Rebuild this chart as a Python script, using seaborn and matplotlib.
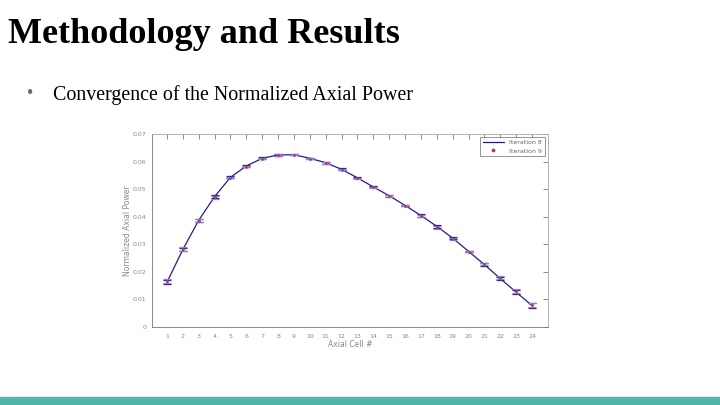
import numpy as np
import pandas as pd
import matplotlib
matplotlib.use('Agg')
import matplotlib.pyplot as plt
from matplotlib.lines import Line2D
import seaborn as sns

# Data
cells = list(range(1, 25))
power_it8 = [0.0162, 0.0281, 0.0387, 0.0473, 0.0543, 0.0584, 0.0612, 0.0624,
             0.0625, 0.0612, 0.0596, 0.0572, 0.0541, 0.0508, 0.0476, 0.0441,
             0.0404, 0.0365, 0.0322, 0.0274, 0.0226, 0.0175, 0.0126, 0.0077]
power_it9 = [0.0166, 0.0284, 0.0385, 0.0470, 0.0542, 0.0582, 0.0611, 0.0624,
             0.0625, 0.0611, 0.0594, 0.0571, 0.0540, 0.0507, 0.0475, 0.0440,
             0.0402, 0.0362, 0.0320, 0.0273, 0.0228, 0.0178, 0.0130, 0.0080]
err = [0.0008, 0.0007, 0.0006, 0.0005, 0.0003, 0.0003, 0.0003, 0.0002,
       0.0002, 0.0002, 0.0003, 0.0003, 0.0002, 0.0002, 0.0003, 0.0002,
       0.0004, 0.0005, 0.0004, 0.0003, 0.0005, 0.0005, 0.0007, 0.0008]
xticks = list(range(1, 25))
yticks = [0, 0.01, 0.02, 0.03, 0.04, 0.05, 0.06, 0.07]

df = pd.DataFrame({'cell': cells, 'it8': power_it8, 'it9': power_it9, 'err': err})

sns.set_style('white')
plt.rcParams['font.family'] = ['DejaVu Sans']

fig = plt.figure(figsize=(7.2, 4.05), dpi=100)

# slide text
fig.text(0.011, 0.894, 'Methodology and Results', family='Liberation Serif',
         fontweight='bold', fontsize=26, color='black', va='baseline')
fig.text(0.038, 0.757, '\u2022', family='Liberation Serif', fontsize=13,
         color='#666666', va='baseline')
fig.text(0.074, 0.754, 'Convergence of the Normalized Axial Power',
         family='Liberation Serif', fontsize=14.4, color='black', va='baseline')

# teal bar at the bottom
fig.patches.append(plt.Rectangle((0, 0), 1, 8 / 405, transform=fig.transFigure,
                                 color='#50b6ab', zorder=0))

# chart
ax = fig.add_axes([0.211, 0.193, 0.550, 0.476])
sns.lineplot(data=df, x='cell', y='it8', ax=ax, color='#23207a', lw=0.9,
             legend=False)
ax.errorbar(df['cell'], df['it8'], yerr=df['err'], fmt='none', ecolor='#2a1d80',
            elinewidth=0.8, capsize=3, capthick=0.9)
ax.errorbar(df['cell'], df['it9'], yerr=df['err'], fmt='*', color='#b04060',
            ms=1.5, ecolor='#8c80e6', elinewidth=0.8, capsize=3, capthick=0.9)

ax.set_xlim(0.05, 25.0)
ax.set_ylim(0, 0.07)
ax.set_xticks(xticks)
ax.set_xticklabels([str(t) for t in xticks])
ax.set_yticks(yticks)
ax.set_yticklabels(['0', '0.01', '0.02', '0.03', '0.04', '0.05', '0.06', '0.07'])
ax.tick_params(direction='in', length=3.5, width=0.6, colors='#777777',
               labelsize=4.5, top=True, right=True, pad=5)
ax.tick_params(axis='y', pad=4)
ax.tick_params(axis='both', labelcolor='#888888')
for s in ax.spines.values():
    s.set_color('#aaaaaa')
    s.set_linewidth(0.6)
ax.spines['left'].set_color('#777777')
ax.spines['bottom'].set_color('#777777')
ax.set_xlabel('Axial Cell #', fontsize=5.5, color='#888888', labelpad=1)
ax.set_ylabel('Normalized Axial Power', fontsize=5.5, color='#888888')
ax.yaxis.set_label_coords(-0.05, 0.5)

handles = [Line2D([], [], color='#23207a', lw=0.9),
           Line2D([], [], color='#b04060', marker='*', ls='none', ms=2.5)]
leg = ax.legend(handles, ['Iteration 8', 'Iteration 9'], loc='upper right',
                fontsize=4.5, frameon=True, fancybox=False, edgecolor='#666666',
                borderpad=0.4, handlelength=3.5, labelcolor='#666666')
leg.get_frame().set_linewidth(0.6)

fig.savefig('out.png', dpi=100)
